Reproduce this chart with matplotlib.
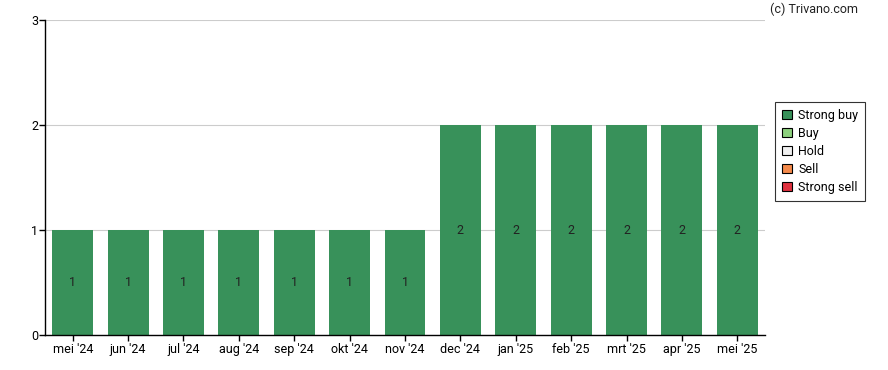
import matplotlib.pyplot as plt
from matplotlib.patches import Patch

# data
months = ["mei '24", "jun '24", "jul '24", "aug '24", "sep '24", "okt '24", "nov '24",
          "dec '24", "jan '25", "feb '25", "mrt '25", "apr '25", "mei '25"]
strong_buy = [1, 1, 1, 1, 1, 1, 1, 2, 2, 2, 2, 2, 2]

legend_labels = ["Strong buy", "Buy", "Hold", "Sell", "Strong sell"]
legend_colors = ["#38915a", "#8dd17e", "#f0f0f0", "#f58a4b", "#e0313f"]

plt.rcParams['font.family'] = ['Roboto', 'DejaVu Sans']
fs = 9

fig = plt.figure(figsize=(8.88, 3.70), dpi=100)
ax = fig.add_axes([45 / 888, 1 - 335 / 370, 720 / 888, 315 / 370])

x = range(len(months))
ax.bar(x, strong_buy, width=0.74, color=legend_colors[0], zorder=2)
for i, v in enumerate(strong_buy):
    ax.text(i, v / 2, str(v), ha='center', va='center', fontsize=fs, color='#222222', zorder=3)

ax.set_xlim(-0.5, len(months) - 0.5)
ax.set_ylim(0, 3)
ax.set_yticks([0, 1, 2, 3])
ax.set_xticks(list(x))
ax.set_xticklabels(months)
ax.tick_params(axis='both', labelsize=fs, colors='black', length=4, width=1)
ax.tick_params(axis='x', pad=2)
ax.tick_params(axis='y', pad=1)
ax.grid(axis='y', color='#cccccc', linewidth=0.8, zorder=1)
ax.set_axisbelow(True)
for s in ['top', 'right']:
    ax.spines[s].set_visible(False)
for s in ['left', 'bottom']:
    ax.spines[s].set_linewidth(1)
    ax.spines[s].set_color('black')

handles = [Patch(facecolor=c, edgecolor='black', linewidth=0.8) for c in legend_colors]
leg = fig.legend(handles, legend_labels, loc='upper left', bbox_to_anchor=(775 / 888, 1 - 102 / 370),
                 fontsize=fs, frameon=True, fancybox=False, edgecolor='black',
                 handlelength=0.8, handleheight=0.8, handletextpad=0.5,
                 labelspacing=0.4, borderpad=0.55, borderaxespad=0)
leg.get_frame().set_linewidth(0.8)

fig.text(858 / 888, 1 - 9 / 370, "(c) Trivano.com", ha='right', va='center', fontsize=fs, color='#222222')

fig.savefig("out.png", dpi=100)
